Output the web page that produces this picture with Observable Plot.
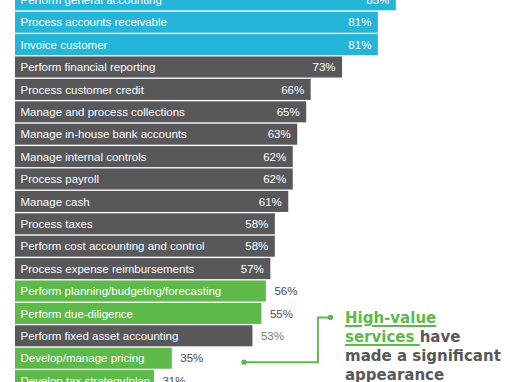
<!DOCTYPE html>
<html><head><meta charset="utf-8">
<script src="https://cdn.jsdelivr.net/npm/d3@7"></script>
<script src="https://cdn.jsdelivr.net/npm/@observablehq/plot@0.6"></script>
<style>
html,body{margin:0;padding:0;background:#fff;}
#wrap{position:relative;width:510px;height:382px;overflow:hidden;}
#wrap svg{position:absolute;left:0;top:0;}
#note{position:absolute;left:345px;top:309px;font:bold 15px/19px "DejaVu Sans",sans-serif;color:#58585a;white-space:nowrap;}
#note .hv{color:#5cb94a;text-decoration:underline;text-decoration-thickness:1.5px;text-underline-offset:2px;}
</style></head>
<body>
<div id="wrap"><div id="note"><span class="hv">High-value</span><br><span class="hv">services </span>have<br>made a significant<br>appearance</div></div>
<script>
const tasks = [
  "Perform general accounting",
  "Process accounts receivable",
  "Invoice customer",
  "Perform financial reporting",
  "Process customer credit",
  "Manage and process collections",
  "Manage in-house bank accounts",
  "Manage internal controls",
  "Process payroll",
  "Manage cash",
  "Process taxes",
  "Perform cost accounting and control",
  "Process expense reimbursements",
  "Perform planning/budgeting/forecasting",
  "Perform due-diligence",
  "Perform fixed asset accounting",
  "Develop/manage pricing",
  "Develop tax strategy/plan"
];
const values = [85, 81, 81, 73, 66, 65, 63, 62, 62, 61, 58, 58, 57, 56, 55, 53, 35, 31];
const groups = ["core","core","core","other","other","other","other","other","other","other","other","other","other","high","high","other","high","high"];
const groupNames = ["core", "other", "high"];
const groupColors = ["#25b5d8", "#58585b", "#5cb94a"];

// callout connector (data units): from pricing row up to due-diligence row
const calloutRows = ["Develop/manage pricing", "Perform due-diligence"];
const calloutX = [51, 67.5, 70.3];

const data = tasks.map((t, i) => ({task: t, value: values[i], group: groups[i]}));
const inside = data.filter(d => d.group !== "high" && d.value > 55);
const outside = data.filter(d => !(d.group !== "high" && d.value > 55));

const path = [
  {x: calloutX[0], y: calloutRows[0]},
  {x: calloutX[1], y: calloutRows[0]},
  {x: calloutX[1], y: calloutRows[1]},
  {x: calloutX[2], y: calloutRows[1]}
];
const ends = [path[0], path[3]];

const chart = Plot.plot({
  width: 510,
  height: 382,
  marginTop: 0, marginRight: 0, marginBottom: 0, marginLeft: 0,
  style: {fontFamily: "'Liberation Sans', Arial, sans-serif", fontSize: "11.5px", background: "white"},
  x: {domain: [0, 100], range: [15, 463], axis: null},
  y: {domain: tasks, range: [-11.4, 391.8], paddingInner: 0.06, paddingOuter: 0.03, round: false, axis: null},
  color: {domain: groupNames, range: groupColors},
  marks: [
    Plot.barX(data, {x: "value", y: "task", fill: "group"}),
    Plot.text(data, {y: "task", text: "task", frameAnchor: "left", textAnchor: "start", dx: 20, fill: "white", fontSize: 11.5}),
    Plot.text(inside, {x: "value", y: "task", text: d => d.value + "%", textAnchor: "end", dx: -7, fill: "white", fontSize: 11.5}),
    Plot.text(outside, {x: "value", y: "task", text: d => d.value + "%", textAnchor: "start", dx: 8,
      fill: d => d.group === "high" ? "#4d4d4f" : "#7a7a7c",
      fontWeight: d => d.group === "high" ? "bold" : "normal", fontSize: 11.5}),
    Plot.line(path, {x: "x", y: "y", stroke: groupColors[2], strokeWidth: 2, dy: 3.5}),
    Plot.dot(ends, {x: "x", y: "y", r: 2.6, fill: groupColors[2], stroke: "none", dy: 3.5})
  ]
});
document.getElementById("wrap").prepend(chart);
</script>
</body></html>
